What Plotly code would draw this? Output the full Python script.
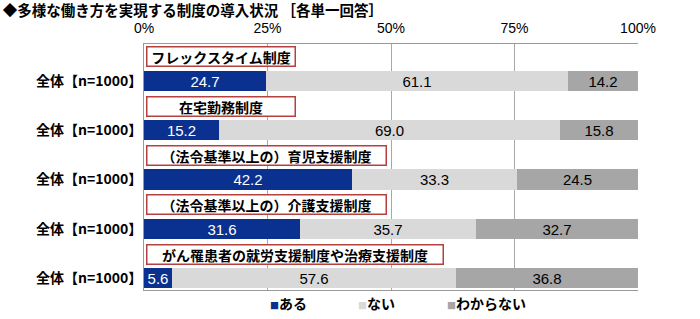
import plotly.graph_objects as go

title = "◆多様な働き方を実現する制度の導入状況 ［各単一回答］"
items = ["フレックスタイム制度", "在宅勤務制度", "（法令基準以上の）育児支援制度",
         "（法令基準以上の）介護支援制度", "がん罹患者の就労支援制度や治療支援制度"]
row_label = "全体【n=1000】"
aru = [24.7, 15.2, 42.2, 31.6, 5.6]
nai = [61.1, 69.0, 33.3, 35.7, 57.6]
wakaranai = [14.2, 15.8, 24.5, 32.7, 36.8]
series_names = ["ある", "ない", "わからない"]
x_ticks = [0, 25, 50, 75, 100]
x_tick_text = ["0%", "25%", "50%", "75%", "100%"]
colors = ["#0b3190", "#d9d9d9", "#a6a6a6"]
text_colors = ["white", "black", "black"]
box_widths = [145, 145, 236, 236, 293]
legend_left_px = [230, 318, 407]

JP = "Noto Sans CJK JP"
NUM = "Liberation Sans, Noto Sans CJK JP"

ypos = list(range(len(items)))
fig = go.Figure()
for name, vals, col, tc in zip(series_names, [aru, nai, wakaranai], colors, text_colors):
    fig.add_trace(go.Bar(
        y=ypos, x=vals, name=name, orientation="h", width=0.41,
        marker=dict(color=col, line=dict(width=0)),
        text=[f"{v:.1f}" for v in vals], textposition="inside",
        insidetextanchor="middle", constraintext="none",
        textfont=dict(color=tc, size=15, family=NUM),
        showlegend=False, hoverinfo="skip"))

legend_ids = ["legend", "legend2", "legend3"]
# legend entries: small coloured square drawn as text before the name
for name, col, lid in zip(series_names, colors, legend_ids):
    fig.add_trace(go.Scatter(
        x=[None], y=[None], mode="markers", legend=lid,
        name=f"<span style='color:{col};font-size:9px'>■</span>{name}",
        marker=dict(symbol="square", size=1, color="rgba(0,0,0,0)"), hoverinfo="skip"))

for i, (lab, w) in enumerate(zip(items, box_widths)):
    fig.add_annotation(x=0.4, y=i - 0.49, xref="x", yref="y", xanchor="left", yanchor="middle",
                       text=f"<b>{lab}</b>", showarrow=False, width=w, height=16, align="center",
                       font=dict(size=14, color="black", family=JP),
                       bgcolor="white", bordercolor="#b5413f", borderwidth=1.5, borderpad=1)

legend_common = dict(orientation="h", xref="container", xanchor="left",
                     yref="container", y=0.047, yanchor="middle",
                     font=dict(size=14, family=JP, weight="bold"), itemwidth=30,
                     bgcolor="rgba(0,0,0,0)")

fig.update_layout(
    width=700, height=319,
    margin=dict(l=144, r=62, t=44, b=29, autoexpand=False),
    paper_bgcolor="white", plot_bgcolor="white",
    font=dict(family=NUM, color="black"),
    barmode="stack",
    title=dict(text=f"<b>{title}</b>", x=0.004, xanchor="left", y=0.965, yanchor="middle",
               font=dict(size=14.5, family=JP, color="black")),
    xaxis=dict(range=[0, 100], side="top", tickvals=x_ticks, ticktext=x_tick_text,
               tickfont=dict(size=14, family=NUM), showgrid=True, gridcolor="#a8a8a8", gridwidth=1,
               showline=True, linecolor="#9a9a9a", mirror=True, zeroline=False, ticks="",
               ticklabelstandoff=4),
    yaxis=dict(range=[4.24, -0.75], tickvals=ypos, ticktext=[row_label] * len(items),
               tickfont=dict(size=14, family=JP, weight="bold"), showgrid=False, zeroline=False,
               showline=True, linecolor="#9a9a9a", ticks="", ticklabelstandoff=-2),
    legend=dict(x=legend_left_px[0] / 700, **legend_common),
    legend2=dict(x=legend_left_px[1] / 700, **legend_common),
    legend3=dict(x=legend_left_px[2] / 700, **legend_common),
    bargap=0,
)
fig.write_html("out.html")
